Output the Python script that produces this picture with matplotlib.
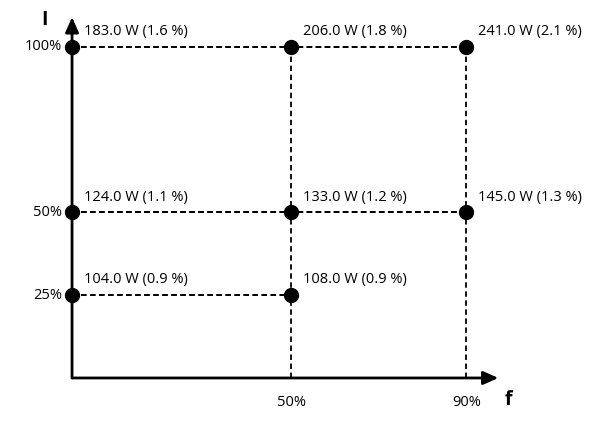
import matplotlib.pyplot as plt

plt.rcParams['font.family'] = ['Open Sans', 'DejaVu Sans']

# operating points: frequency (%), current (%), losses
f_pct = [0, 50, 90, 0, 50, 90, 0, 50]
i_pct = [100, 100, 100, 50, 50, 50, 25, 25]
power_w = [183.0, 206.0, 241.0, 124.0, 133.0, 145.0, 104.0, 108.0]
loss_pct = [1.6, 1.8, 2.1, 1.1, 1.2, 1.3, 0.9, 0.9]

x_ticks = [50, 90]
y_ticks = [100, 50, 25]

fig = plt.figure(figsize=(6, 4.21), dpi=100)
ax = fig.add_axes([0, 0, 1, 1])
ax.set_xlim(-16.44, 120.5)
ax.set_ylim(-13.0, 114.2)
ax.axis('off')

# dashed grid lines from each point back to the axes
for f, i in zip(f_pct, i_pct):
    right = max(ff for ff, ii in zip(f_pct, i_pct) if ii == i)
    ax.plot([0, right], [i, i], ls='--', color='black', lw=1.3, dashes=(3, 2))
for f in set(f_pct):
    if f == 0:
        continue
    top = max(ii for ff, ii in zip(f_pct, i_pct) if ff == f)
    ax.plot([f, f], [0, top], ls='--', color='black', lw=1.3, dashes=(3, 2))

# axes arrows
ax.annotate('', xy=(97.3, 0), xytext=(0, 0),
            arrowprops=dict(arrowstyle='-|>,head_length=0.9,head_width=0.4', color='black', lw=2,
                            shrinkA=0, shrinkB=0))
ax.annotate('', xy=(0, 109), xytext=(0, 0),
            arrowprops=dict(arrowstyle='-|>,head_length=0.9,head_width=0.4', color='black', lw=2,
                            shrinkA=0, shrinkB=0))

ax.plot(f_pct, i_pct, 'o', color='black', ms=10, zorder=5)

for f, i, p, l in zip(f_pct, i_pct, power_w, loss_pct):
    ax.annotate(f'{p:.1f} W ({l:.1f} %)', xy=(f, i), xytext=(8.5, 8.5),
                textcoords='offset points', fontsize=10.5, va='baseline', ha='left')

for t in x_ticks:
    ax.text(t, -7.5, f'{t}%', ha='center', va='center', fontsize=10.5)
for t in y_ticks:
    ax.text(-2.3, t, f'{t}%', ha='right', va='center', fontsize=10.5)

ax.text(-6.2, 108.3, 'I', ha='center', va='center', fontsize=14, fontweight='bold')
ax.text(99.5, -6.8, 'f', ha='center', va='center', fontsize=14, fontweight='bold')

fig.savefig('out.png', dpi=100)
